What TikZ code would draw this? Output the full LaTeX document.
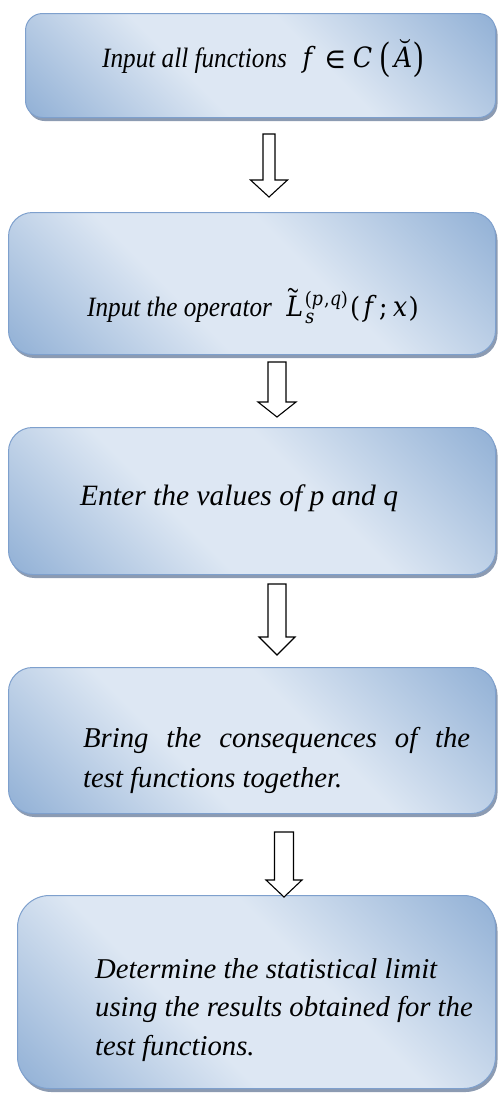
\RequirePackage{fix-cm}
\documentclass[tikz,border=0pt]{standalone}
\usepackage{fontspec}
\usepackage{unicode-math}
\setmainfont{Liberation Serif}
\setmathfont{DejaVu Math TeX Gyre}
\usetikzlibrary{calc,shadows}
\definecolor{bdark}{RGB}{149,179,215}
\definecolor{blight}{RGB}{221,231,243}
\definecolor{bborder}{RGB}{126,160,205}
\definecolor{bshadow}{RGB}{140,155,178}
\pgfdeclareverticalshading{boxshade}{100bp}{color(0bp)=(bdark); color(16bp)=(bdark); color(40bp)=(blight); color(58bp)=(blight); color(84bp)=(bdark); color(100bp)=(bdark)}
\tikzset{
  flowbox/.style={draw=bborder, line width=1pt,
    shading=boxshade, shading angle=-45,
    drop shadow={shadow xshift=2pt, shadow yshift=-3.5pt, fill=bshadow, opacity=1},
    anchor=north west, inner sep=0pt},
  arrowline/.style={draw=black, fill=white, line width=1.1pt, line join=miter},
  smalltext/.style={anchor=base west, inner sep=0pt, xscale=0.9, transform shape,
    font=\fontsize{28}{38}\selectfont\itshape},
  bigtext/.style={anchor=base west, inner sep=0pt,
    font=\fontsize{28.7}{40}\selectfont\itshape},
}
\newcommand\barrowdraw[5]{%
  \draw[arrowline] let \p1=(#1), \p2=(#2) in
    (\x1-#3pt,\y1) -- (\x1+#3pt,\y1) -- (\x1+#3pt,\y2+#5pt) -- (\x1+#4pt,\y2+#5pt)
    -- (\x1,\y2) -- (\x1-#4pt,\y2+#5pt) -- (\x1-#3pt,\y2+#5pt) -- cycle;}
\begin{document}
\begin{tikzpicture}[x=1pt,y=-1pt]
\useasboundingbox (0,0) rectangle (498,1093);
% boxes
\node[flowbox, rounded corners=17pt, minimum width=470pt, minimum height=104pt] (b1) at (25,13) {};
\node[flowbox, rounded corners=24pt, minimum width=487pt, minimum height=142pt] (b2) at (8,212) {};
\node[flowbox, rounded corners=24pt, minimum width=487pt, minimum height=147pt] (b3) at (8,427) {};
\node[flowbox, rounded corners=24pt, minimum width=487pt, minimum height=146pt] (b4) at (8,667) {};
\node[flowbox, rounded corners=32pt, minimum width=478pt, minimum height=193pt] (b5) at (17,895) {};
% texts
\node[smalltext] (t1) at (102,67) {Input all functions\enspace $f \in C\left(\breve{A}\right)$};
\node[smalltext] (t2) at (87,316) {Input the operator\enspace $\tilde{L}_s^{(p,q)}(f;x)$};
\node[bigtext, font=\fontsize{29.5}{40}\selectfont\itshape] (t3) at (80,505) {Enter the values of p and q};
\node[bigtext] (t4) at (83,747) {\parbox[t]{387pt}{Bring the consequences of the\linebreak test functions together.}};
\node[bigtext] (t5) at (95,978) {\parbox[t]{400pt}{\raggedright\baselineskip=38.5pt Determine the statistical limit\\using the results obtained for the\\test functions.}};
% arrow end points
\path let \p1=(b1.south), \p2=(b2.north) in
  coordinate (a1s) at (269pt,\y1-16pt) coordinate (a1e) at (269pt,\y2+15pt);
\path let \p1=(b2.south), \p2=(b3.north) in
  coordinate (a2s) at (277pt,\y1-7pt) coordinate (a2e) at (277pt,\y2+10pt);
\path let \p1=(b3.south), \p2=(b4.north) in
  coordinate (a3s) at (277pt,\y1-9pt) coordinate (a3e) at (277pt,\y2+12pt);
\path let \p1=(b4.south), \p2=(b5.north) in
  coordinate (a4s) at (284pt,\y1-18pt) coordinate (a4e) at (284pt,\y2-2pt);
% block arrows
\barrowdraw{a1s}{a1e}{6}{18.5}{17}
\barrowdraw{a2s}{a2e}{9}{19}{15}
\barrowdraw{a3s}{a3e}{9}{18}{18}
\barrowdraw{a4s}{a4e}{9.5}{18}{17}
\end{tikzpicture}
\end{document}
